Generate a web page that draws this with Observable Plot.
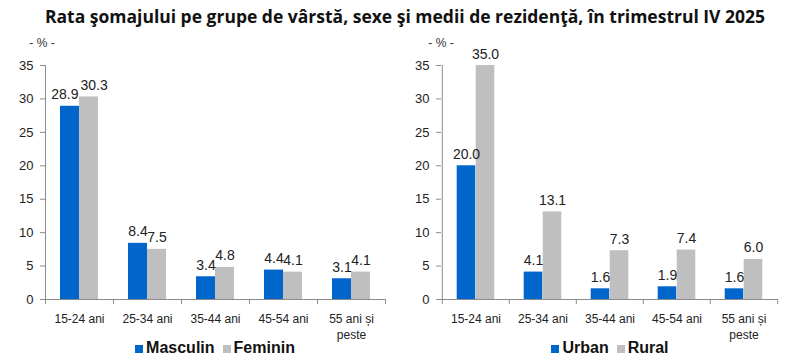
<!DOCTYPE html>
<html><head><meta charset="utf-8">
<script src="https://cdn.jsdelivr.net/npm/d3@7"></script>
<script src="https://cdn.jsdelivr.net/npm/@observablehq/plot@0.6"></script>
<style>
body{margin:0;background:#fff;}
#root{position:relative;width:800px;height:360px;overflow:hidden;font-family:"Liberation Sans",Arial,sans-serif;background:#fff;}
#title{position:absolute;left:5px;width:800px;top:5px;text-align:center;font:bold 17.5px "Open Sans",Lato,sans-serif;line-height:22px;color:#111;white-space:nowrap;z-index:3;}
.unit{position:absolute;top:35px;width:60px;text-align:center;font-size:12px;line-height:16px;color:#333;z-index:3;}
.plot{position:absolute;top:30px;z-index:1;}
.legend{position:absolute;top:340px;width:400px;display:flex;justify-content:center;gap:8px;font:bold 16px "Liberation Sans",Arial,sans-serif;line-height:16px;color:#111;z-index:3;}
.item{display:flex;align-items:center;}
.sw{display:inline-block;width:8px;height:8px;margin-right:3px;margin-top:2px;}
</style></head>
<body><div id="root">
<div id="title">Rata şomajului pe grupe de vârstă, sexe şi medii de rezidenţă, în trimestrul IV 2025</div>
<div class="plot" id="p1" style="left:0px"></div>
<div class="plot" id="p2" style="left:400px"></div>
<div class="unit" style="left:12px">- % -</div>
<div class="unit" style="left:411px">- % -</div>
<div class="legend" id="l1" style="left:15px"></div>
<div class="legend" id="l2" style="left:410px"></div>
</div>
<script>
const ageGroups = ["15-24 ani", "25-34 ani", "35-44 ani", "45-54 ani", "55 ani și\npeste"];
const masculin = [28.9, 8.4, 3.4, 4.4, 3.1];
const feminin = [30.3, 7.5, 4.8, 4.1, 4.1];
const urban = [20.0, 4.1, 1.6, 1.9, 1.6];
const rural = [35.0, 13.1, 7.3, 7.4, 6.0];
const yTicks = [0, 5, 10, 15, 20, 25, 30, 35];
const seriesNames1 = ["Masculin", "Feminin"];
const seriesNames2 = ["Urban", "Rural"];
const colors = ["#0066CC", "#BFBFBF"];
const axisColor = "#8C8C8C";

function chart(a, b, ml, mr) {
  const W = 400, H = 310, mt = 35, mb = 41;
  const bw = (W - ml - mr) / ageGroups.length;
  const barW = 19;
  const rows = ageGroups.map((g, i) => ({g, a: a[i], b: b[i]}));
  const last = ageGroups[ageGroups.length - 1];
  const fmt = v => v.toFixed(1);
  // labels that would collide with the neighbour label (wide labels at similar heights) are pushed apart
  const collide = d => fmt(d.a).length + fmt(d.b).length >= 8 && Math.abs(d.a - d.b) < 3;
  const labelStyle = {dy: -7, lineAnchor: "bottom", fontSize: 14, fill: "#222"};
  return Plot.plot({
    width: W, height: H, marginLeft: ml, marginRight: mr, marginTop: mt, marginBottom: mb,
    style: {fontFamily: "Liberation Sans, Arial, sans-serif", fontSize: "13px", color: "#222", background: "white", overflow: "visible"},
    x: {domain: ageGroups, padding: 0, axis: null},
    y: {domain: [0, 35], axis: null},
    marks: [
      Plot.axisY({ticks: yTicks, tickSize: 5, tickPadding: 7, stroke: axisColor, fill: "#222", fontSize: 13, label: null}),
      Plot.barY(rows, {x: "g", y: "a", fill: colors[0], insetLeft: bw / 2 - barW, insetRight: bw / 2}),
      Plot.barY(rows, {x: "g", y: "b", fill: colors[1], insetLeft: bw / 2, insetRight: bw / 2 - barW}),
      Plot.ruleY([0], {stroke: axisColor}),
      Plot.ruleX([ageGroups[0]], {x: d => d, y1: 0, y2: 35, dx: -bw / 2, stroke: axisColor}),
      Plot.ruleX(ageGroups, {x: d => d, y1: 0, y2: 0, insetBottom: -5, dx: -bw / 2, stroke: axisColor}),
      Plot.ruleX([last], {x: d => d, y1: 0, y2: 0, insetBottom: -5, dx: bw / 2, stroke: axisColor}),
      Plot.text(rows, {filter: d => !collide(d), x: "g", y: "a", text: d => fmt(d.a), dx: -barW / 2, ...labelStyle}),
      Plot.text(rows, {filter: d => !collide(d), x: "g", y: "b", text: d => fmt(d.b), dx: barW / 2, ...labelStyle}),
      Plot.text(rows, {filter: collide, x: "g", y: "a", text: d => fmt(d.a), textAnchor: "end", dx: -1, ...labelStyle}),
      Plot.text(rows, {filter: collide, x: "g", y: "b", text: d => fmt(d.b), textAnchor: "start", dx: 1, ...labelStyle}),
      Plot.text(ageGroups, {x: d => d, y: 0, text: d => d, dy: 12, lineAnchor: "top", lineHeight: 1.33, fontSize: 12, fill: "#222"})
    ]
  });
}

function legend(el, names) {
  names.forEach((n, i) => {
    const it = document.createElement("div");
    it.className = "item";
    it.innerHTML = `<span class="sw" style="background:${colors[i]}"></span><span>${n}</span>`;
    el.appendChild(it);
  });
}

document.getElementById("p1").appendChild(chart(masculin, feminin, 45, 15));
document.getElementById("p2").appendChild(chart(urban, rural, 41, 22));
legend(document.getElementById("l1"), seriesNames1);
legend(document.getElementById("l2"), seriesNames2);
</script>
</body></html>
